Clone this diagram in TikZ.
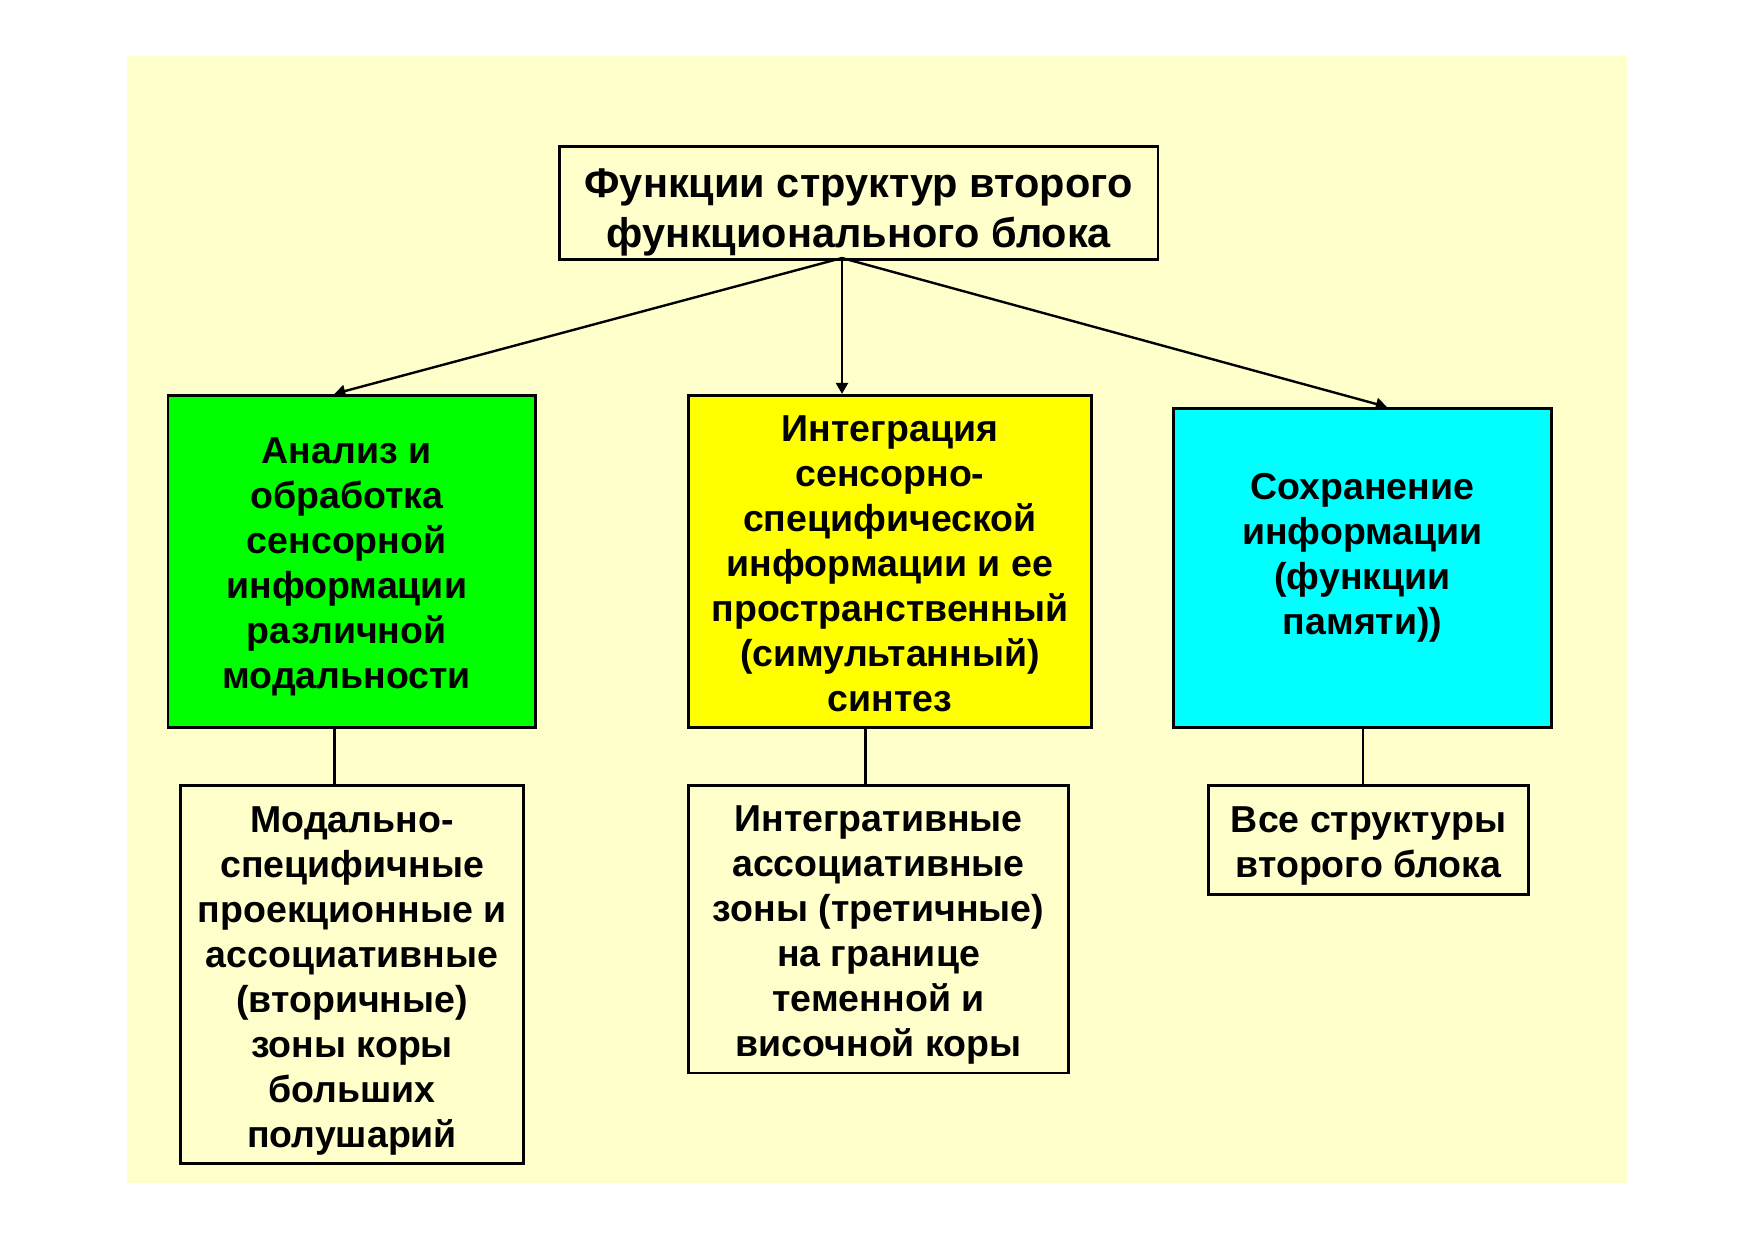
\documentclass[tikz,border=0pt]{standalone}
\usepackage{fontspec}
\setmainfont{Liberation Sans}
\usetikzlibrary{arrows.meta}
\definecolor{bgyellow}{HTML}{FFFFCC}
\definecolor{boxgreen}{HTML}{00FF00}
\definecolor{boxyellow}{HTML}{FFFF00}
\definecolor{boxcyan}{HTML}{00FFFF}
\tikzset{
  box/.style={draw=black, line width=2.8pt, rectangle, inner sep=0pt},
  txt/.style={inner sep=0pt, align=center, font=\bfseries\fontsize{37.5}{45}\selectfont},
  titletxt/.style={inner sep=0pt, align=center, font=\bfseries\fontsize{41.5}{50}\selectfont},
  conn/.style={line width=2.4pt, draw=black},
  arr/.style={conn, -{Triangle[length=11pt,width=12pt]}}
}
\begin{document}
\begin{tikzpicture}[x=1pt,y=-1pt]
\useasboundingbox (0,0) rectangle (1754,1240);
\fill[bgyellow] (127,56) rectangle (1627,1183);

% boxes
\node[box, fill=bgyellow, minimum width=598.6pt, minimum height=112.8pt] (top) at (858.6,203.2) {};
\node[box, fill=boxgreen, minimum width=367.4pt, minimum height=332.4pt] (green) at (351.7,561.5) {};
\node[box, fill=boxyellow, minimum width=402.4pt, minimum height=332.4pt] (yellow) at (889.9,561.5) {};
\node[box, fill=boxcyan, minimum width=377.5pt, minimum height=319.4pt] (cyan) at (1362.5,568) {};
\node[box, fill=bgyellow, minimum width=342.6pt, minimum height=378.3pt] (b1) at (352.1,974.6) {};
\node[box, fill=bgyellow, minimum width=379.5pt, minimum height=287.5pt] (b2) at (878.5,929.2) {};
\node[box, fill=bgyellow, minimum width=319.7pt, minimum height=108.8pt] (b3) at (1368.5,839.9) {};

% texts
\node[titletxt] (topt) at ([yshift=-9pt]top.center) {Функции структур второго\\функционального блока};
\node[txt] (greent) at ([xshift=-5pt,yshift=-5pt]green.center)
  {Анализ и\\обработка\\сенсорной\\информации\\различной\\модальности};
\node[txt] (yellowt) at ([yshift=-2.5pt]yellow.center)
  {Интеграция\\сенсорно-\\специфической\\информации и ее\\пространственный\\(симультанный)\\синтез};
\node[txt] (cyant) at ([yshift=10pt]cyan.center)
  {Сохранение\\информации\\(функции\\памяти))};
\node[txt] (b1t) at ([yshift=-6pt]b1.center)
  {Модально-\\специфичные\\проекционные и\\ассоциативные\\(вторичные)\\зоны коры\\больших\\полушарий};
\node[txt] (b2t) at ([yshift=-6pt]b2.center)
  {Интегративные\\ассоциативные\\зоны (третичные)\\на границе\\теменной и\\височной коры};
\node[txt] (b3t) at ([yshift=-6pt]b3.center)
  {Все структуры\\второго блока};

% connectors
\coordinate (o) at (842,258);
\draw[arr] (o) -- (green.north -| 334.3,0);
\draw[arr] (o) -- (yellow.north -| 842,0);
\draw[arr] (o) -- (cyan.north -| 1386.9,0);

\draw[conn] (green.south -| 334.3,0) -- (b1.north -| 334.3,0);
\draw[conn] (yellow.south -| 865.6,0) -- (b2.north -| 865.6,0);
\draw[conn] (cyan.south -| 1363,0) -- (b3.north -| 1363,0);
\end{tikzpicture}
\end{document}
